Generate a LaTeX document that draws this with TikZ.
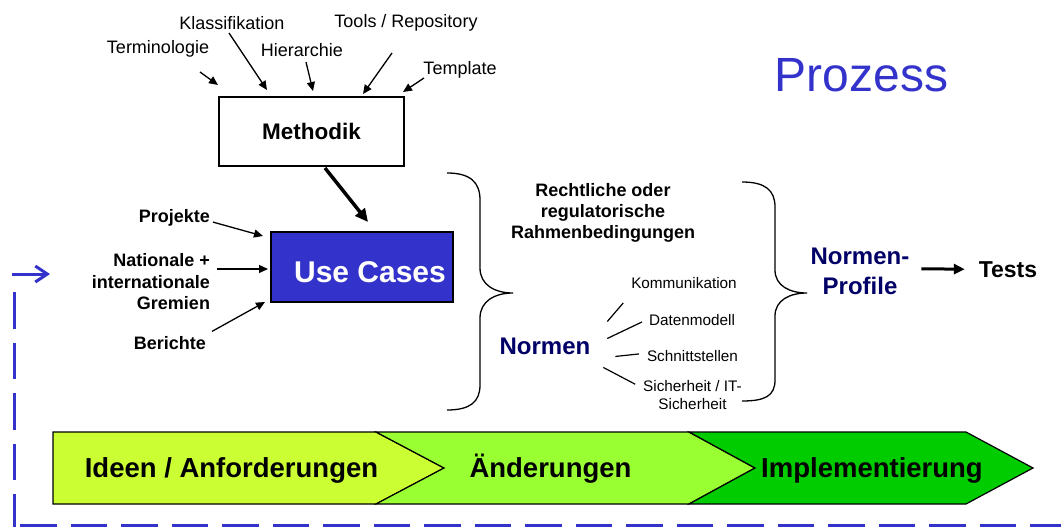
\documentclass[tikz,border=0pt]{standalone}
\usepackage{fontspec}
\setmainfont{Liberation Sans}
\usetikzlibrary{arrows.meta,calc}
\definecolor{ucblue}{HTML}{3333CC}
\definecolor{navy}{HTML}{000066}
\definecolor{gA}{HTML}{CCFF33}
\definecolor{gB}{HTML}{99FF33}
\definecolor{gC}{HTML}{00CC00}
\begin{document}
\begin{tikzpicture}[x=1pt,y=-1pt,
  every node/.style={inner sep=0pt,outer sep=0pt},
  lbl/.style={font=\fontsize{18}{21}\selectfont},
  blbl/.style={font=\bfseries\fontsize{18}{21.5}\selectfont,align=right},
  rlbl/.style={font=\bfseries\fontsize{18}{21}\selectfont,align=center},
  small/.style={font=\fontsize{15.3}{18}\selectfont,align=center},
  navytext/.style={font=\bfseries\fontsize{24}{30}\selectfont,text=navy,align=center},
  chevtext/.style={font=\bfseries\fontsize{27.5}{30}\selectfont},
  thinarrow/.style={line width=1.3pt,-{Triangle[length=9pt,width=8pt]}},
  thickarrow/.style={line width=3.5pt,-{Triangle[length=13pt,width=12pt]}},
  brace/.style={line width=1.3pt},
  chev/.style={draw=black,line width=1.2pt,line join=miter},
  loopline/.style={draw=ucblue,line width=3.5pt,dash pattern=on 36.5pt off 14pt}
]
\useasboundingbox (0,0) rectangle (1061,527);

% Title
\node[anchor=base,font=\fontsize{48}{50}\selectfont,text=ucblue] (title) at (861.5,92) {Prozess};

% Methodik
\node[draw=black,line width=1.3pt,minimum width=185pt,minimum height=69pt,
      font=\bfseries\fontsize{22.5}{25}\selectfont] (m) at (311.5,131.5) {Methodik};

% top labels
\node[lbl,anchor=base] (term) at (158,53.4) {Terminologie};
\node[lbl,anchor=base] (klas) at (232,29.4) {Klassifikation};
\node[lbl,anchor=base] (hier) at (302,56.4) {Hierarchie};
\node[lbl,anchor=base] (tools) at (406,27.4) {Tools / Repository};
\node[lbl,anchor=base] (templ) at (460,74.4) {Template};

\coordinate (tTerm) at (200,72);
\coordinate (tKlas) at (229,33);
\coordinate (tHier) at (306,62);
\coordinate (tTools) at (392,53);
\coordinate (tTempl) at (424,78);
\draw[thinarrow] (tTerm) -- ($(m.north west)+(-1,-12)$);
\draw[thinarrow] (tKlas) -- ($(m.north west)+(48,-7)$);
\draw[thinarrow] (tHier) -- ($(m.north)+(1.5,-6)$);
\draw[thinarrow] (tTools) -- ($(m.north)+(51.5,-3)$);
\draw[thinarrow] (tTempl) -- ($(m.north east)+(-1,-5)$);

% Use Cases
\node[draw=black,fill=ucblue,line width=1.5pt,minimum width=182pt,minimum height=70pt] (uc) at (362,267) {};
\node[anchor=base,text=white,font=\bfseries\fontsize{30}{32}\selectfont] (uctext) at (370,282.7) {Use Cases};

\draw[thickarrow] ($(m.south)+(13.5,2)$) -- ($(uc.north)+(6,-10)$);

% left labels
\node[blbl,anchor=base east] (proj) at (210,222.4) {Projekte};
\node[blbl,anchor=east] (nat) at (210,282) {Nationale +\\internationale\\Gremien};
\node[blbl,anchor=base east] (ber) at (206,349.4) {Berichte};
\draw[thinarrow] ($(proj.base east)+(3,-0.3)$) -- ($(uc.north west)+(-8,4)$);
\draw[thinarrow] ($(nat.east)+(7,-13)$) -- ($(uc.west)+(-3,2)$);
\draw[thinarrow] ($(ber.base east)+(6,-18)$) -- ($(uc.south west)+(-6,0)$);

% left brace
\draw[brace] (447,173) .. controls (470,173) and (480,182) .. (480,200) -- (480,268)
  .. controls (480,285) and (495,293) .. (513,293)
  .. controls (495,293) and (480,301) .. (480,318) -- (480,385)
  .. controls (480,402) and (470,410) .. (447,410);

% Rechtliche
\node[rlbl,anchor=north] (recht) at (603,183.5) {Rechtliche oder\\regulatorische\\Rahmenbedingungen};

% Normen
\node[navytext,anchor=base] (normen) at (545,354.6) {Normen};
\node[small,anchor=base] (komm) at (684,288.4) {Kommunikation};
\node[small,anchor=base] (daten) at (692,325.4) {Datenmodell};
\node[small,anchor=base] (schn) at (692.5,361.4) {Schnittstellen};
\node[small,anchor=north] (sich) at (692.5,380.6) {Sicherheit / IT-\\Sicherheit};
\draw[line width=1.2pt] ($(normen.east)+(17,-25)$) -- ($(komm.west)+(-8,20)$);
\draw[line width=1.2pt] ($(normen.east)+(17,-8)$) -- ($(daten.west)+(-7,2)$);
\draw[line width=1.2pt] ($(normen.east)+(25,10)$) -- ($(schn.west)+(-8,-2)$);
\draw[line width=1.2pt] ($(normen.east)+(13,21)$) -- ($(sich.west)+(-8,-11)$);

% right brace
\draw[brace] (742,182) .. controls (765,182) and (775,190) .. (775,207) -- (775,270)
  .. controls (775,286) and (790,293) .. (807,293)
  .. controls (790,293) and (775,300) .. (775,316) -- (775,380)
  .. controls (775,396) and (765,401) .. (742,401);

% Normen-Profile and Tests
\node[navytext,anchor=north] (np) at (860,248.4) {Normen-\\Profile};
\node[anchor=base,font=\bfseries\fontsize{23}{25}\selectfont] (tests) at (1008,277) {Tests};
\draw[line width=3pt,-{Triangle[length=11pt,width=10pt]}] ($(np.east)+(12,-3)$) -- ($(tests.west)+(-14,0)$);

% chevrons
\draw[chev,fill=gA] (53,432) -- (376,432) -- (444,468) -- (376,504) -- (53,504) -- cycle;
\draw[chev,fill=gB] (376,432) -- (689,432) -- (755,468) -- (689,504) -- (376,504) -- (444,468) -- cycle;
\draw[chev,fill=gC] (689,432) -- (966,432) -- (1033,468) -- (966,504) -- (689,504) -- (755,468) -- cycle;
\node[chevtext,anchor=base] (c1) at (231.5,477.8) {Ideen / Anforderungen};
\node[chevtext,anchor=base] (c2) at (550.5,477.8) {Änderungen};
\node[chevtext,anchor=base] (c3) at (872,477.8) {Implementierung};

% feedback loop
\draw[loopline] (14.5,292) -- (14.5,527);
\draw[loopline] (20,525.5) -- (1061,525.5);
\coordinate (loopA) at (12,274);
\coordinate (loopB) at (50,274);
\draw[draw=ucblue,line width=3pt,-{Straight Barb[length=12pt,width=16pt]}] (loopA) -- (loopB);
\end{tikzpicture}
\end{document}
